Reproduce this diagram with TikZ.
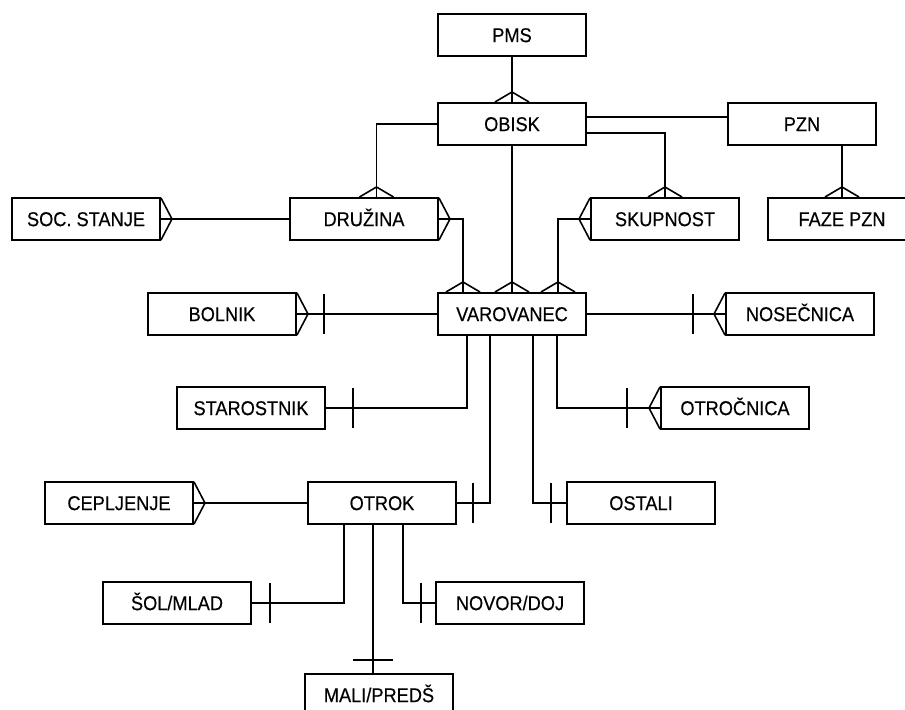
\documentclass[tikz,border=0pt]{standalone}
\usepackage{fontspec}
\setmainfont{Liberation Sans}[FakeStretch=0.91, FakeBold=0.4]
\usepackage{tikz}
\usetikzlibrary{calc}

\tikzset{
        ent/.style={draw, line width=1pt, minimum width=74pt, minimum height=21pt, inner sep=0pt, text height=7.1pt, text depth=0pt, font=\fontsize{10}{12}\selectfont},
        crowv/.pic={\draw (-17,0) -- (0,-10) -- (17,0);},
        crowh/.pic={\draw (0,-21) -- (-11,0) -- (0,21);},
        onebar/.pic={\draw (0,-20) -- (0,20);}
}

\begin{document}
\begin{tikzpicture}[x=0.5pt, y=-0.5pt, line width=0.8pt]
        \clip (0,0) rectangle (905,710);

        \node[ent] (pms) at (512,35) {PMS};
        \node[ent] (obisk) at (512,124) {OBISK};
        \node[ent] (pzn) at (802,124) {PZN};
        \node[ent] (soc) at (86,219) {SOC. STANJE};
        \node[ent] (druzina) at (364,219) {DRUŽINA};
        \node[ent] (skupnost) at (665,219) {SKUPNOST};
        \node[ent] (faze) at (842,219) {FAZE PZN};
        \node[ent] (bolnik) at (222,314) {BOLNIK};
        \node[ent] (varovanec) at (512,314) {VAROVANEC};
        \node[ent] (nosecnica) at (800,314) {NOSEČNICA};
        \node[ent] (starostnik) at (251,408) {STAROSTNIK};
        \node[ent] (otrocnica) at (735,408) {OTROČNICA};
        \node[ent] (cepljenje) at (119,503) {CEPLJENJE};
        \node[ent] (otrok) at (382,503) {OTROK};
        \node[ent] (ostali) at (641,503) {OSTALI};
        \node[ent] (sol) at (177,603) {ŠOL/MLAD};
        \node[ent] (novor) at (510,603) {NOVOR/DOJ};
        \node[ent] (mali) at (379,695) {MALI/PREDŠ};

        \draw (pms) -- (obisk);
        \draw (obisk) -- (varovanec);
        \draw (obisk.west) -| ($(druzina.north)+(12.5,0)$);
        \draw ($(obisk.east)+(0,-7)$) -- ($(pzn.west)+(0,-7)$);
        \draw ($(obisk.east)+(0,9)$) -| (skupnost.north);
        \draw (pzn.south -| faze.north) -- (faze.north);
        \draw (soc) -- (druzina);
        \draw (druzina.east) -| ($(varovanec.north)+(-49,0)$);
        \draw (skupnost.west) -| ($(varovanec.north)+(46,0)$);
        \draw (bolnik) -- (varovanec);
        \draw (varovanec) -- (nosecnica);
        \draw ($(varovanec.south)+(-45,0)$) |- (starostnik.east);
        \draw ($(varovanec.south)+(-22,0)$) |- (otrok.east);
        \draw ($(varovanec.south)+(21,0)$) |- (ostali.west);
        \draw ($(varovanec.south)+(45,0)$) |- (otrocnica.west);
        \draw (cepljenje) -- (otrok);
        \draw ($(otrok.south)+(-38,0)$) |- (sol.east);
        \coordinate (mtop) at ($(otrok.south)+(-9,0)$);
        \draw (mtop) -- (mtop |- mali.north);
        \draw ($(otrok.south)+(21,0)$) |- (novor.west);

        \path (obisk.north) pic {crowv};
        \path ($(druzina.north)+(12.5,0)$) pic {crowv};
        \path (skupnost.north) pic {crowv};
        \path (faze.north) pic {crowv};
        \path ($(varovanec.north)+(-49,0)$) pic {crowv};
        \path (varovanec.north) pic {crowv};
        \path ($(varovanec.north)+(46,0)$) pic {crowv};

        \path (soc.east) pic[xscale=-1] {crowh};
        \path (druzina.east) pic[xscale=-1] {crowh};
        \path (bolnik.east) pic[xscale=-1] {crowh};
        \path (cepljenje.east) pic[xscale=-1] {crowh};
        \path (skupnost.west) pic {crowh};
        \path (nosecnica.west) pic {crowh};
        \path (otrocnica.west) pic {crowh};

        \path ($(bolnik.east)+(27,0)$) pic {onebar};
        \path ($(nosecnica.west)+(-32,0)$) pic {onebar};
        \path ($(starostnik.east)+(27,0)$) pic {onebar};
        \path ($(otrocnica.west)+(-33,0)$) pic {onebar};
        \path ($(otrok.east)+(16,0)$) pic {onebar};
        \path ($(ostali.west)+(-15,0)$) pic {onebar};
        \path ($(sol.east)+(18,0)$) pic {onebar};
        \path ($(novor.west)+(-14,0)$) pic {onebar};
        \path ($(mtop |- mali.north)+(0,-13)$) pic[rotate=90] {onebar};
\end{tikzpicture}
\end{document}
